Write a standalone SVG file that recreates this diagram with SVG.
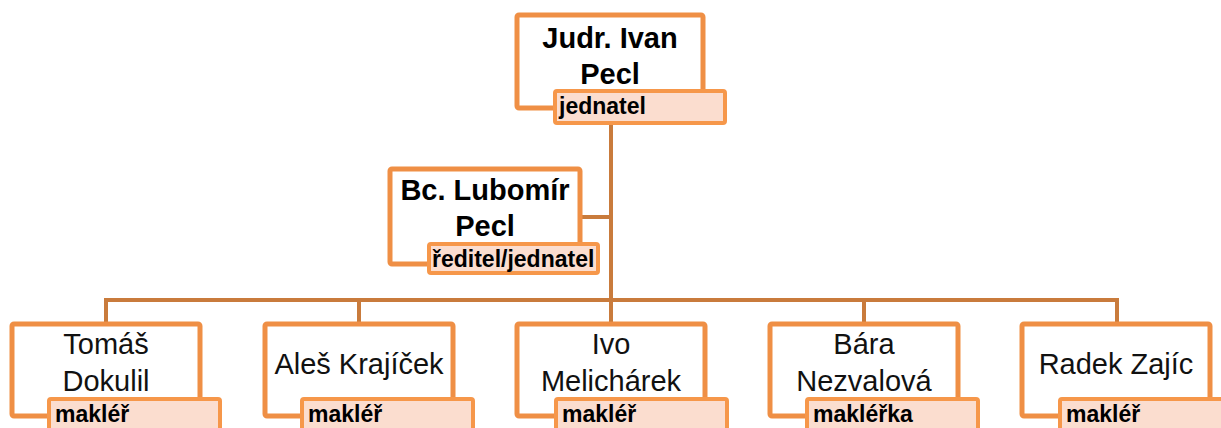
<svg xmlns="http://www.w3.org/2000/svg" width="1221" height="428" viewBox="0 0 1221 428">
<style>
.box{fill:#fff;stroke:#EF8F45;stroke-width:5}
.lab{fill:#FBDDCF;stroke:#F6974A;stroke-width:4}
.con{fill:none;stroke:#C97B3C;stroke-width:4}
.nb{font-family:"Liberation Sans",Arial,sans-serif;font-weight:bold;font-size:29px;fill:#000;text-anchor:middle}
.nr{font-family:"Liberation Sans",Arial,sans-serif;font-size:29px;fill:#111;text-anchor:middle}
.lt{font-family:"Liberation Sans",Arial,sans-serif;font-weight:bold;font-size:23px;fill:#000}
</style>
<g id="connectors">
<path class="con" d="M611 125V300"/>
<path class="con" d="M582 217H611"/>
<path class="con" d="M106 322V300H1117V322"/>
<path class="con" d="M359 300V322"/>
<path class="con" d="M611 300V322"/>
<path class="con" d="M864 300V322"/>
</g>
<g id="n-ivan">
<rect class="box" x="517" y="15" width="186" height="93" rx="2"/>
<text class="nb" x="610" y="48">Judr. Ivan</text>
<text class="nb" x="610" y="84">Pecl</text>
<rect class="lab" x="555" y="91" width="170" height="32" rx="2"/>
<text class="lt" x="559" y="114">jednatel</text>
</g>
<g id="n-lubomir">
<rect class="box" x="390" y="169" width="190" height="95" rx="2"/>
<text class="nb" x="485" y="200">Bc. Lubomír</text>
<text class="nb" x="485" y="236">Pecl</text>
<rect class="lab" x="429" y="244" width="169" height="29" rx="2"/>
<text class="lt" x="432" y="267">ředitel/jednatel</text>
</g>
<g id="n-tomas">
<rect class="box" x="12" y="324" width="188" height="92" rx="2"/>
<text class="nr" x="106" y="354">Tomáš</text>
<text class="nr" x="106" y="391">Dokulil</text>
<rect class="lab" x="49" y="399" width="171" height="34" rx="2"/>
<text class="lt" x="55" y="422">makléř</text>
</g>
<g id="n-ales">
<rect class="box" x="265" y="324" width="188" height="92" rx="2"/>
<text class="nr" x="359" y="374">Aleš Krajíček</text>
<rect class="lab" x="302" y="399" width="171" height="34" rx="2"/>
<text class="lt" x="308" y="422">makléř</text>
</g>
<g id="n-ivo">
<rect class="box" x="517" y="324" width="188" height="92" rx="2"/>
<text class="nr" x="611" y="354">Ivo</text>
<text class="nr" x="611" y="391">Melichárek</text>
<rect class="lab" x="556" y="399" width="171" height="34" rx="2"/>
<text class="lt" x="562" y="422">makléř</text>
</g>
<g id="n-bara">
<rect class="box" x="770" y="324" width="188" height="92" rx="2"/>
<text class="nr" x="864" y="354">Bára</text>
<text class="nr" x="864" y="391">Nezvalová</text>
<rect class="lab" x="807" y="399" width="171" height="34" rx="2"/>
<text class="lt" x="813" y="422">makléřka</text>
</g>
<g id="n-radek">
<rect class="box" x="1022" y="324" width="188" height="92" rx="2"/>
<text class="nr" x="1116" y="374">Radek Zajíc</text>
<rect class="lab" x="1060" y="399" width="171" height="34" rx="2"/>
<text class="lt" x="1066" y="422">makléř</text>
</g>
</svg>
